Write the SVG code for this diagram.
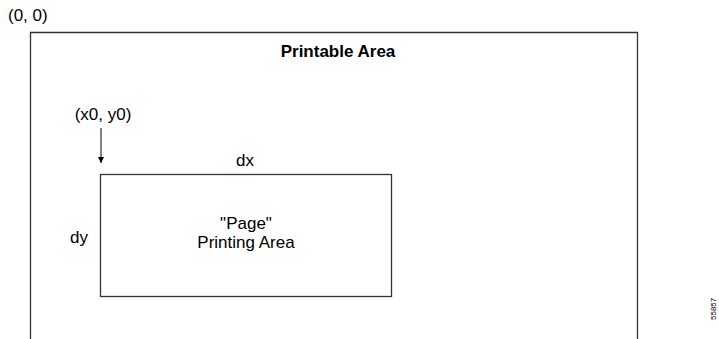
<svg xmlns="http://www.w3.org/2000/svg" width="719" height="339" viewBox="0 0 719 339">
<defs>
<style>
.t{font-family:"Liberation Sans",Arial,sans-serif;font-size:17px;fill:#000}
.b{font-weight:bold}
.ln{fill:none;stroke:#333;stroke-width:1.3}
</style>
<marker id="ah" viewBox="0 0 6 8" refX="6" refY="4" markerWidth="6" markerHeight="8" orient="auto" markerUnits="userSpaceOnUse">
<path d="M0,1 L6,4 L0,7 z" fill="#000"/>
</marker>
</defs>
<rect width="719" height="339" fill="#fff"/>
<text class="t" x="8" y="21">(0, 0)</text>
<g id="printable">
<path class="ln" d="M30.5,339 V32.5 H637.5 V339"/>
<text class="t b" x="338" y="57" text-anchor="middle">Printable Area</text>
</g>
<g id="page">
<rect class="ln" x="100.5" y="174.5" width="291" height="122"/>
<text class="t" x="246" y="229" text-anchor="middle">"Page"</text>
<text class="t" x="246" y="248" text-anchor="middle">Printing Area</text>
</g>
<g id="connectors">
<line x1="101" y1="128" x2="101" y2="163" stroke="#000" stroke-width="1" marker-end="url(#ah)"/>
</g>
<text class="t" x="103" y="120" text-anchor="middle">(x0, y0)</text>
<text class="t" x="245" y="166" text-anchor="middle">dx</text>
<text class="t" x="79" y="243" text-anchor="middle">dy</text>
<text font-family="Liberation Sans,Arial,sans-serif" font-size="8" fill="#000" transform="translate(716,320) rotate(-90)">55857</text>
</svg>
